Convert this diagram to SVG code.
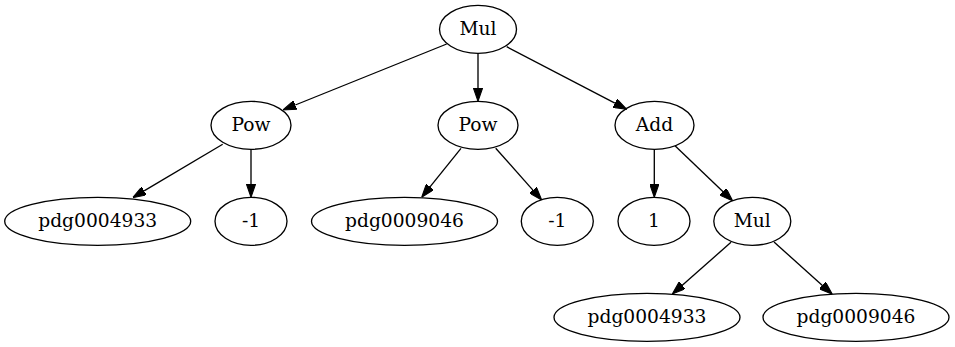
<svg xmlns="http://www.w3.org/2000/svg" width="955" height="347" viewBox="0 0 955 347">
<style>
.n ellipse{fill:none;stroke:#000;stroke-width:1.33}
.n text{font-family:"DejaVu Serif",serif;font-size:18.67px;text-anchor:middle;fill:#000}
#edges line{stroke:#000;stroke-width:1.33;marker-end:url(#ah)}
</style>
<defs>
<marker id="ah" markerUnits="userSpaceOnUse" viewBox="0 0 10 7" refX="0" refY="3.5" markerWidth="13.3" markerHeight="9.3" orient="auto">
<path d="M0,0 L10,3.5 L0,7 z" fill="#000" stroke="#000" stroke-width="0.8"/>
</marker>
</defs>
<rect width="955" height="347" fill="#fff"/>
<g id="edges">
<line x1="446.7" y1="44" x2="295.3" y2="105"/>
<line x1="478" y1="53.3" x2="478" y2="88"/>
<line x1="506.7" y1="46.7" x2="614.9" y2="103.2"/>
<line x1="222.7" y1="144.3" x2="144.1" y2="190.9"/>
<line x1="251" y1="149.3" x2="251" y2="184"/>
<line x1="461" y1="148.3" x2="430" y2="186.9"/>
<line x1="495.7" y1="148.3" x2="532.9" y2="190.1"/>
<line x1="654.3" y1="149.3" x2="654.3" y2="184"/>
<line x1="675" y1="145.7" x2="723.1" y2="191.8"/>
<line x1="731" y1="242.3" x2="682.3" y2="285.2"/>
<line x1="774" y1="242" x2="822.4" y2="285.4"/>
</g>
<g id="mul1" class="n"><ellipse cx="478" cy="29.3" rx="38.5" ry="24"/><text x="478" y="35">Mul</text></g>
<g id="pow1" class="n"><ellipse cx="251" cy="125.3" rx="40" ry="24"/><text x="251" y="131">Pow</text></g>
<g id="pow2" class="n"><ellipse cx="478" cy="125.3" rx="40" ry="24"/><text x="478" y="131">Pow</text></g>
<g id="add" class="n"><ellipse cx="654.5" cy="125.3" rx="39.5" ry="24"/><text x="654.5" y="131">Add</text></g>
<g id="pdg4933a" class="n"><ellipse cx="97.7" cy="221.3" rx="93" ry="24"/><text x="97.7" y="227">pdg0004933</text></g>
<g id="neg1a" class="n"><ellipse cx="251" cy="221.3" rx="36" ry="24"/><text x="251" y="227">-1</text></g>
<g id="pdg9046a" class="n"><ellipse cx="404.5" cy="221.3" rx="93" ry="24"/><text x="404.5" y="227">pdg0009046</text></g>
<g id="neg1b" class="n"><ellipse cx="557.3" cy="221.3" rx="36" ry="24"/><text x="557.3" y="227">-1</text></g>
<g id="one" class="n"><ellipse cx="654" cy="221.3" rx="36" ry="24"/><text x="654" y="227">1</text></g>
<g id="mul2" class="n"><ellipse cx="752.3" cy="221.3" rx="38.5" ry="24"/><text x="752.3" y="227">Mul</text></g>
<g id="pdg4933b" class="n"><ellipse cx="647" cy="317.3" rx="93" ry="24"/><text x="647" y="323">pdg0004933</text></g>
<g id="pdg9046b" class="n"><ellipse cx="856" cy="317.3" rx="93" ry="24"/><text x="856" y="323">pdg0009046</text></g>
</svg>
